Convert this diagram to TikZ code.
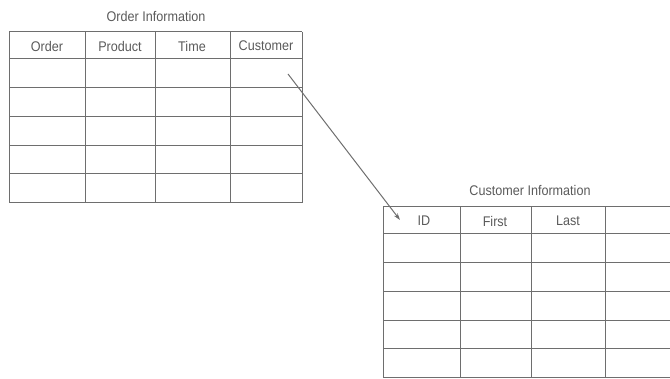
\documentclass[tikz,border=0pt]{standalone}
\usepackage{fontspec}
\setmainfont{Liberation Sans}
\newfontfamily\narrowsans[FakeStretch=0.9]{Liberation Sans}
\usetikzlibrary{arrows.meta}
\definecolor{gridc}{HTML}{6E6E6E}
\definecolor{txtc}{HTML}{5A5A5A}
\begin{document}
\begin{tikzpicture}[x=1pt,y=-1pt,
  grid/.style={draw=gridc,line width=1pt},
  hdr/.style={text=txtc,font=\narrowsans\fontsize{14}{16}\selectfont,inner sep=0pt,anchor=center},
  ttl/.style={text=txtc,font=\narrowsans\fontsize{14}{16}\selectfont,inner sep=0pt,anchor=center},
  link/.style={draw=gridc,line width=1pt,-{Stealth[length=7pt,width=4.5pt]}}]
\useasboundingbox (0,0) rectangle (670,379);
% Order Information table
\node[ttl] (t1) at (156,16) {Order Information};
\foreach \y in {32,59,88,117,146,174,203} \draw[grid] (9,\y) -- (302,\y);
\foreach \x in {9,85,155,230,302} \draw[grid] (\x,32) -- (\x,203);
\node[hdr] (h1) at (47,46) {Order};
\node[hdr] (h2) at (120,46) {Product};
\node[hdr] (h3) at (192,46) {Time};
\node[hdr] (h4) at (266,46) {Customer};
% Customer Information table
\node[ttl] (t2) at (530,190) {Customer Information};
\foreach \y in {207,234,263,292,321,349,378} \draw[grid] (383,\y) -- (670,\y);
\foreach \x in {383,460,531,605} \draw[grid] (\x,207) -- (\x,378);
\node[hdr] (c1) at (424,221) {ID};
\node[hdr] (c2) at (495,221) {First};
\node[hdr] (c3) at (568,221) {Last};
% connector
\coordinate (src) at (288,74);
\coordinate (dst) at (400,220);
\draw[link] (src) -- (dst);
\end{tikzpicture}
\end{document}
